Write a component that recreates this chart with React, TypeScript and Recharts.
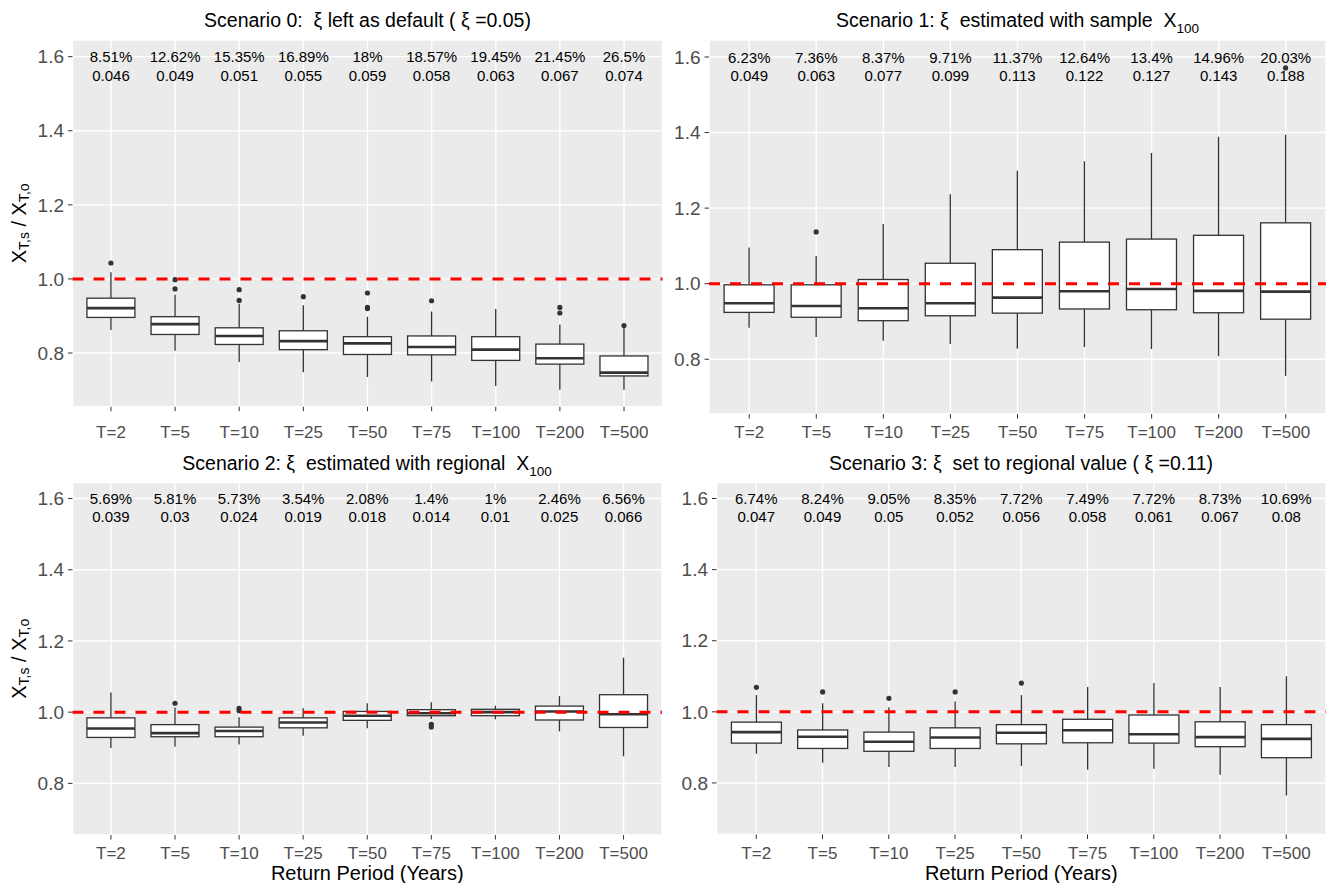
import React from "react";
import {
  ComposedChart,
  Bar,
  Line,
  XAxis,
  YAxis,
  CartesianGrid,
  ReferenceLine,
  LabelList,
} from "recharts";

const FONT = '"Liberation Sans", Arial, sans-serif';

const RETURN_PERIODS = ["T=2", "T=5", "T=10", "T=25", "T=50", "T=75", "T=100", "T=200", "T=500"];

const Y_DOMAIN = [0.655, 1.645];
const Y_TICKS = [0.8, 1.0, 1.2, 1.4, 1.6];
const Y_MINOR = [0.7, 0.9, 1.1, 1.3, 1.5];
const PCT_ROW_Y = 1.6;
const ERR_ROW_Y = 1.55;

// Scenario 0: xi left as default
const S0_LOW = [0.862, 0.806, 0.776, 0.748, 0.735, 0.723, 0.711, 0.701, 0.701];
const S0_Q1 = [0.896, 0.85, 0.823, 0.809, 0.796, 0.795, 0.78, 0.77, 0.738];
const S0_MED = [0.921, 0.878, 0.846, 0.832, 0.826, 0.816, 0.809, 0.786, 0.747];
const S0_Q3 = [0.948, 0.898, 0.868, 0.86, 0.844, 0.846, 0.844, 0.824, 0.792];
const S0_HIGH = [1.018, 0.957, 0.933, 0.929, 0.898, 0.912, 0.919, 0.877, 0.87];
const S0_OUT = [[1.043], [0.998, 0.973], [0.971, 0.942], [0.952], [0.962, 0.923, 0.92], [0.941], [], [0.923, 0.908], [0.874]];
const S0_PCT = ["8.51%", "12.62%", "15.35%", "16.89%", "18%", "18.57%", "19.45%", "21.45%", "26.5%"];
const S0_ERR = ["0.046", "0.049", "0.051", "0.055", "0.059", "0.058", "0.063", "0.067", "0.074"];

// Scenario 1: xi estimated with sample X100
const S1_LOW = [0.883, 0.859, 0.849, 0.84, 0.828, 0.832, 0.827, 0.808, 0.756];
const S1_Q1 = [0.924, 0.911, 0.902, 0.915, 0.922, 0.933, 0.931, 0.923, 0.906];
const S1_MED = [0.948, 0.941, 0.935, 0.948, 0.963, 0.98, 0.986, 0.981, 0.979];
const S1_Q3 = [0.997, 0.997, 1.011, 1.054, 1.09, 1.11, 1.118, 1.128, 1.161];
const S1_HIGH = [1.096, 1.073, 1.158, 1.237, 1.299, 1.324, 1.346, 1.389, 1.394];
const S1_OUT = [[], [1.137], [], [], [], [], [], [], [1.571]];
const S1_PCT = ["6.23%", "7.36%", "8.37%", "9.71%", "11.37%", "12.64%", "13.4%", "14.96%", "20.03%"];
const S1_ERR = ["0.049", "0.063", "0.077", "0.099", "0.113", "0.122", "0.127", "0.143", "0.188"];

// Scenario 2: xi estimated with regional X100
const S2_LOW = [0.899, 0.903, 0.909, 0.934, 0.955, 0.981, 0.98, 0.946, 0.876];
const S2_Q1 = [0.929, 0.931, 0.931, 0.956, 0.977, 0.99, 0.99, 0.978, 0.957];
const S2_MED = [0.954, 0.941, 0.947, 0.971, 0.99, 0.997, 1.0, 1.002, 0.994];
const S2_Q3 = [0.984, 0.965, 0.958, 0.984, 1.002, 1.007, 1.008, 1.017, 1.049];
const S2_HIGH = [1.055, 1.013, 0.986, 1.011, 1.025, 1.028, 1.018, 1.045, 1.153];
const S2_OUT = [[], [1.025], [1.011, 1.004], [], [], [0.966, 0.958], [], [], []];
const S2_PCT = ["5.69%", "5.81%", "5.73%", "3.54%", "2.08%", "1.4%", "1%", "2.46%", "6.56%"];
const S2_ERR = ["0.039", "0.03", "0.024", "0.019", "0.018", "0.014", "0.01", "0.025", "0.066"];

// Scenario 3: xi set to regional value
const S3_LOW = [0.882, 0.857, 0.845, 0.845, 0.848, 0.837, 0.84, 0.823, 0.765];
const S3_Q1 = [0.912, 0.897, 0.889, 0.897, 0.91, 0.913, 0.912, 0.902, 0.871];
const S3_MED = [0.943, 0.93, 0.916, 0.928, 0.941, 0.948, 0.937, 0.929, 0.924];
const S3_Q3 = [0.971, 0.949, 0.943, 0.955, 0.964, 0.979, 0.991, 0.972, 0.964];
const S3_HIGH = [1.047, 1.024, 1.013, 1.029, 1.047, 1.07, 1.081, 1.07, 1.1];
const S3_OUT = [[1.069], [1.056], [1.038], [1.056], [1.081], [], [], [], []];
const S3_PCT = ["6.74%", "8.24%", "9.05%", "8.35%", "7.72%", "7.49%", "7.72%", "8.73%", "10.69%"];
const S3_ERR = ["0.047", "0.049", "0.05", "0.052", "0.056", "0.058", "0.061", "0.067", "0.08"];

type Row = {
  period: string;
  low: number;
  q1: number;
  med: number;
  q3: number;
  high: number;
  out: number[];
  pct: string;
  err: string;
};

function buildRows(
  low: number[], q1: number[], med: number[], q3: number[], high: number[],
  out: number[][], pct: string[], err: string[]
): Row[] {
  return RETURN_PERIODS.map((period, i) => ({
    period,
    low: low[i],
    q1: q1[i],
    med: med[i],
    q3: q3[i],
    high: high[i],
    out: out[i],
    pct: pct[i],
    err: err[i],
  }));
}

const ROWS_S0 = buildRows(S0_LOW, S0_Q1, S0_MED, S0_Q3, S0_HIGH, S0_OUT, S0_PCT, S0_ERR);
const ROWS_S1 = buildRows(S1_LOW, S1_Q1, S1_MED, S1_Q3, S1_HIGH, S1_OUT, S1_PCT, S1_ERR);
const ROWS_S2 = buildRows(S2_LOW, S2_Q1, S2_MED, S2_Q3, S2_HIGH, S2_OUT, S2_PCT, S2_ERR);
const ROWS_S3 = buildRows(S3_LOW, S3_Q1, S3_MED, S3_Q3, S3_HIGH, S3_OUT, S3_PCT, S3_ERR);

const INK = "#333333";

// whisker-to-whisker range bar; box, median and outliers are placed inside it
const whiskerRange = (r: Row) => [r.low, r.high];

function BoxShape(props: any) {
  const { x, y, width, height, payload } = props;
  if (x == null || y == null || !payload) return null;
  const top = Math.min(y, y + height);
  const bottom = Math.max(y, y + height);
  const span = payload.high - payload.low;
  const py = (v: number) => bottom - ((v - payload.low) / span) * (bottom - top);
  const cx = x + width / 2;
  const yQ1 = py(payload.q1);
  const yQ3 = py(payload.q3);
  const yMed = py(payload.med);
  return (
    <g>
      <line x1={cx} x2={cx} y1={top} y2={yQ3} stroke={INK} strokeWidth={1.3} />
      <line x1={cx} x2={cx} y1={yQ1} y2={bottom} stroke={INK} strokeWidth={1.3} />
      <rect x={x} y={yQ3} width={width} height={yQ1 - yQ3} fill="#FFFFFF" stroke={INK} strokeWidth={1.3} />
      <line x1={x} x2={x + width} y1={yMed} y2={yMed} stroke={INK} strokeWidth={2.6} />
      {payload.out.map((v: number, i: number) => (
        <circle key={i} cx={cx} cy={py(v)} r={2.6} fill={INK} />
      ))}
    </g>
  );
}

function RowLabel(props: any) {
  const { x, y, value } = props;
  if (x == null || y == null) return null;
  return (
    <text x={x} y={y} textAnchor="middle" dominantBaseline="central" fontSize={15} fontFamily={FONT} fill="#000000">
      {value}
    </text>
  );
}

function YTitle(props: any) {
  const vb = props.viewBox;
  if (!vb) return null;
  const cx = vb.x + 19;
  const cy = vb.y + vb.height / 2;
  return (
    <text
      x={cx}
      y={cy}
      transform={`rotate(-90, ${cx}, ${cy})`}
      textAnchor="middle"
      dominantBaseline="central"
      fontFamily={FONT}
      fontSize={20}
      fill="#000000"
    >
      X<tspan fontSize={14} dy={5}>T,s</tspan>
      <tspan dy={-5}> / X</tspan>
      <tspan fontSize={14} dy={5}>T,o</tspan>
    </text>
  );
}

function XTitle(props: any) {
  const vb = props.viewBox;
  if (!vb) return null;
  return (
    <text x={vb.x + vb.width / 2} y={vb.y + 38} textAnchor="middle" dominantBaseline="central" fontFamily={FONT} fontSize={20} fill="#000000">
      Return Period (Years)
    </text>
  );
}

const minorGrid = ({ yAxis }: any) =>
  typeof yAxis?.scale === "function" ? Y_MINOR.map((v) => yAxis.scale(v)) : [];

type Frame = {
  left: number;
  top: number;
  width: number;
  height: number;
  plot: [number, number, number, number];
  tickGap: number;
};

function BoxPanel({ rows, frame, yTitle, xTitle }: { rows: Row[]; frame: Frame; yTitle?: boolean; xTitle?: boolean }) {
  const [x0, y0, x1, y1] = frame.plot;
  const band = (x1 - x0) / 9.2;
  const pad = band * 0.1;
  return (
    <div style={{ position: "absolute", left: frame.left, top: frame.top }}>
      <ComposedChart
        width={frame.width}
        height={frame.height}
        data={rows}
        margin={{ top: y0 - frame.top, right: frame.left + frame.width - x1, bottom: 0, left: 0 }}
        barCategoryGap="12.5%"
      >
        <CartesianGrid fill="#EBEBEB" stroke="#FFFFFF" strokeWidth={0.7} vertical={false} horizontalCoordinatesGenerator={minorGrid} />
        <CartesianGrid stroke="#FFFFFF" strokeWidth={1.4} />
        <XAxis
          dataKey="period"
          type="category"
          height={frame.top + frame.height - y1}
          padding={{ left: pad, right: pad }}
          interval={0}
          axisLine={false}
          tickLine={{ stroke: INK }}
          tickSize={4.5}
          tickMargin={frame.tickGap}
          tick={{ fontSize: 17, fill: "#4D4D4D", fontFamily: FONT }}
          label={xTitle ? { content: XTitle } : undefined}
        />
        <YAxis
          type="number"
          domain={Y_DOMAIN}
          ticks={Y_TICKS}
          allowDataOverflow
          interval={0}
          width={x0 - frame.left}
          axisLine={false}
          tickLine={{ stroke: INK }}
          tickSize={4.5}
          tickMargin={4}
          tick={{ fontSize: 19, fill: "#4D4D4D", fontFamily: FONT }}
          tickFormatter={(v: number) => v.toFixed(1)}
          label={yTitle ? { content: YTitle } : undefined}
        />
        <Bar dataKey={whiskerRange} shape={BoxShape} isAnimationActive={false} />
        <ReferenceLine y={1} stroke="#FF0000" strokeWidth={3} strokeDasharray="11 10" />
        <Line dataKey={() => PCT_ROW_Y} stroke="none" dot={false} activeDot={false} isAnimationActive={false}>
          <LabelList dataKey="pct" content={RowLabel} />
        </Line>
        <Line dataKey={() => ERR_ROW_Y} stroke="none" dot={false} activeDot={false} isAnimationActive={false}>
          <LabelList dataKey="err" content={RowLabel} />
        </Line>
      </ComposedChart>
    </div>
  );
}

function PanelTitle({ cx, cy, children }: { cx: number; cy: number; children: React.ReactNode }) {
  return (
    <div
      style={{
        position: "absolute",
        left: cx,
        top: cy,
        transform: "translate(-50%, -50%)",
        fontSize: 19.5,
        lineHeight: "22px",
        whiteSpace: "pre",
        color: "#000000",
      }}
    >
      {children}
    </div>
  );
}

const Sub = ({ children }: { children: React.ReactNode }) => (
  <span style={{ fontSize: 13.5, position: "relative", top: 6, lineHeight: 0 }}>{children}</span>
);

const FRAME_S0: Frame = { left: 0, top: 30, width: 670, height: 415, plot: [72.5, 40, 662.5, 406.7], tickGap: 14.5 };
const FRAME_S1: Frame = { left: 670, top: 30, width: 663, height: 415, plot: [709, 40, 1326, 414], tickGap: 7.5 };
const FRAME_S2: Frame = { left: 0, top: 472, width: 670, height: 411, plot: [72.5, 482.5, 662, 835], tickGap: 7.5 };
const FRAME_S3: Frame = { left: 670, top: 472, width: 663, height: 411, plot: [716.5, 482.5, 1326, 834.5], tickGap: 8 };

export default function App() {
  return (
    <div style={{ position: "absolute", left: 0, top: 0, width: 1333, height: 883, background: "#FFFFFF", fontFamily: FONT }}>
      <PanelTitle cx={367.5} cy={20}>Scenario 0:  ξ left as default ( ξ =0.05)</PanelTitle>
      <PanelTitle cx={1017.5} cy={20}>
        Scenario 1: ξ  estimated with sample  X<Sub>100</Sub>
      </PanelTitle>
      <PanelTitle cx={367} cy={463}>
        Scenario 2: ξ  estimated with regional  X<Sub>100</Sub>
      </PanelTitle>
      <PanelTitle cx={1021} cy={463}>Scenario 3: ξ  set to regional value ( ξ =0.11)</PanelTitle>
      <BoxPanel rows={ROWS_S0} frame={FRAME_S0} yTitle />
      <BoxPanel rows={ROWS_S1} frame={FRAME_S1} />
      <BoxPanel rows={ROWS_S2} frame={FRAME_S2} yTitle xTitle />
      <BoxPanel rows={ROWS_S3} frame={FRAME_S3} xTitle />
    </div>
  );
}
